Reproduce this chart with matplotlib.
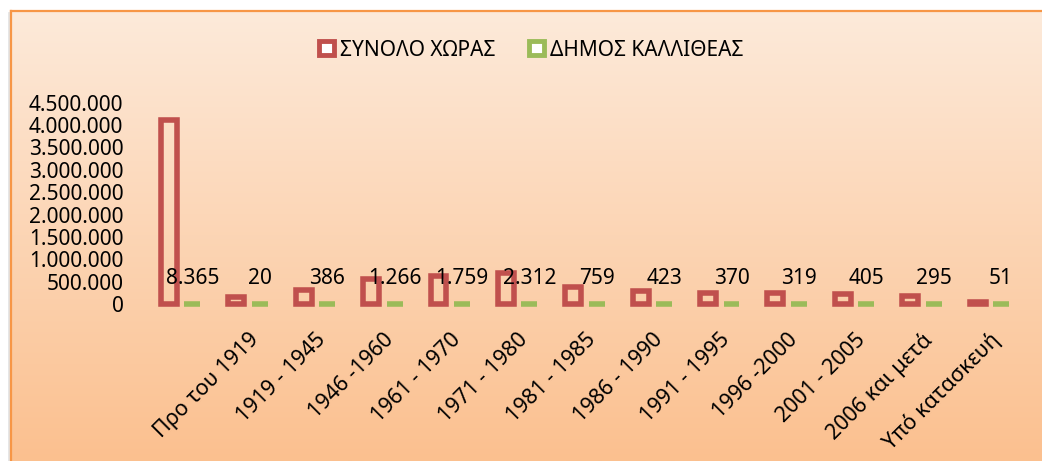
import numpy as np
import matplotlib
matplotlib.use("Agg")
import matplotlib.pyplot as plt
from matplotlib.patches import Patch
from matplotlib.lines import Line2D
from matplotlib.ticker import FuncFormatter

plt.rcParams['font.family'] = ['Noto Sans', 'DejaVu Sans']

# ---- data ----
categories = ['', 'Προ του 1919', '1919 - 1945', '1946 -1960', '1961 - 1970',
              '1971 - 1980', '1981 - 1985', '1986 - 1990', '1991 - 1995',
              '1996 -2000', '2001 - 2005', '2006 και μετά', 'Υπό κατασκευή']
synolo_xoras = [4110000, 150000, 310000, 560000, 635000, 695000, 380000,
                300000, 250000, 250000, 225000, 170000, 45000]
dimos_kallitheas = [8365, 20, 386, 1266, 1759, 2312, 759, 423, 370, 319,
                    405, 295, 51]
series_names = ['ΣΥΝΟΛΟ ΧΩΡΑΣ', 'ΔΗΜΟΣ ΚΑΛΛΙΘΕΑΣ']
yticks = [0, 500000, 1000000, 1500000, 2000000, 2500000, 3000000, 3500000,
          4000000, 4500000]

RED = '#C0504D'
GREEN = '#9BBB59'
ORANGE = '#F79646'

W, H = 1042, 461
fig = plt.figure(figsize=(W / 100, H / 100), dpi=100)
fig.patch.set_facecolor('white')

# soft shadow left of chart area
fig.add_artist(Line2D([8.5 / W, 8.5 / W], [0, 1 - 13 / H], color='#e4e4e4',
                      lw=2.0, transform=fig.transFigure))

# background gradient for chart area
bg = fig.add_axes([10 / W, 0, 1 - 10 / W, (H - 11) / H], zorder=-5)
top = np.array([253, 234, 218]) / 255
bot = np.array([251, 192, 143]) / 255
t = np.linspace(0, 1, 256)[:, None]
grad = top[None, :] * (1 - t) + bot[None, :] * t
bg.imshow(grad[:, None, :], aspect='auto', extent=[0, 1, 0, 1], origin='upper')
bg.set_xlim(0, 1)
bg.set_ylim(0, 1)
bg.axis('off')
# border (left and top)
fig.add_artist(Line2D([10.5 / W, 10.5 / W], [0, 1 - 11 / H], color=ORANGE,
                      lw=1.6, transform=fig.transFigure))
fig.add_artist(Line2D([10.5 / W, 1], [1 - 11.5 / H, 1 - 11.5 / H], color=ORANGE,
                      lw=1.6, transform=fig.transFigure))

# main axes
left, right = 147 / W, 1023 / W
bottom, topy = (H - 304) / H, (H - 102.7) / H
ax = fig.add_axes([left, bottom, right - left, topy - bottom])
ax.set_facecolor('none')
for s in ax.spines.values():
    s.set_visible(False)

x = np.arange(len(categories))
bw = 0.236
off = 0.174
lw = 4.0
ax.bar(x - off, synolo_xoras, width=bw, facecolor='none', edgecolor=RED,
       linewidth=lw, clip_on=False, joinstyle='miter')
ax.bar(x + off, dimos_kallitheas, width=bw, facecolor='none', edgecolor=GREEN,
       linewidth=lw, clip_on=False, joinstyle='miter')

def fmt(v, pos=None):
    return f'{int(v):,}'.replace(',', '.')

for xi, v in zip(x, dimos_kallitheas):
    ax.annotate(fmt(v), xy=(xi + off, 0), xytext=(0, 18.5),
                textcoords='offset points', ha='center', va='center',
                fontsize=15, color='black')

ax.set_xlim(-0.5, len(categories) - 0.5)
ax.set_ylim(0, 4500000)
ax.set_yticks(yticks)
ax.yaxis.set_major_formatter(FuncFormatter(fmt))
ax.tick_params(axis='y', length=0, pad=17, labelsize=15)
ax.set_xticks(x)
ax.set_xticklabels(categories, rotation=45, ha='right', va='top',
                   rotation_mode='anchor', fontsize=15.5)
ax.tick_params(axis='x', length=0, pad=18)

handles = [Patch(facecolor='white', edgecolor=RED, linewidth=3.5),
           Patch(facecolor='white', edgecolor=GREEN, linewidth=3.5)]
fig.legend(handles, series_names, loc='center', bbox_to_anchor=(0.51, 1 - 50 / H),
           ncol=2, frameon=False, fontsize=15, handlelength=0.7,
           handleheight=0.7, handletextpad=0.3, columnspacing=1.6)

fig.savefig('out.png', dpi=100)
